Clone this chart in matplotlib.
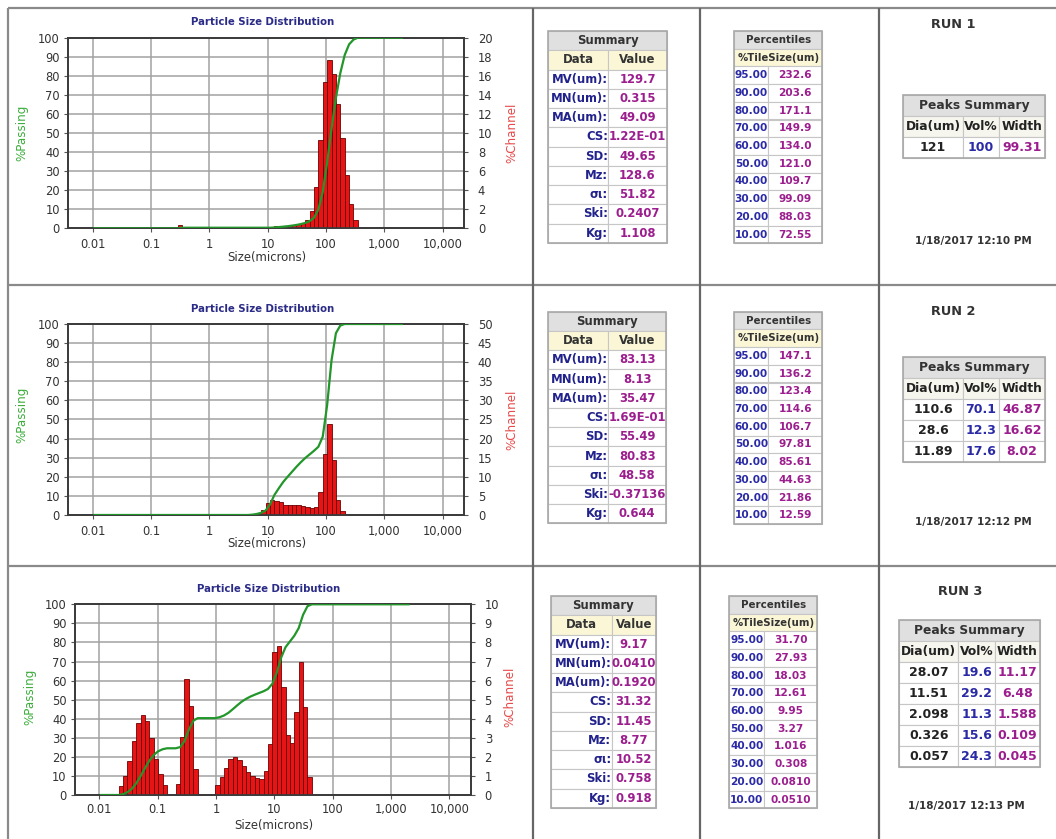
import matplotlib
matplotlib.use("Agg")
import matplotlib.pyplot as plt
from matplotlib.patches import Rectangle
from matplotlib.ticker import FixedLocator, NullLocator

# ---------------- data ----------------
CHANNEL_EDGES = [0.0108, 0.0128, 0.0152, 0.0181, 0.0215, 0.0256, 0.0304, 0.0362, 0.0430, 0.0511,
                 0.0608, 0.0723, 0.0860, 0.102, 0.122, 0.145, 0.172, 0.204, 0.243, 0.289,
                 0.344, 0.409, 0.486, 0.578, 0.688, 0.818, 0.972, 1.156, 1.375, 1.635,
                 1.945, 2.312, 2.75, 3.27, 3.889, 4.625, 5.5, 6.541, 7.778, 9.25,
                 11.0, 13.08, 15.56, 18.5, 22.0, 26.16, 31.11, 37.0, 44.0, 52.33,
                 62.23, 74.0, 88.0, 104.7, 124.5, 148.0, 176.0, 209.3, 248.9, 296.0,
                 352.0, 418.6, 497.8, 592.0, 704.0, 837.2, 995.6, 1184, 1408, 1674, 2000]

X_TICKS = [0.01, 0.1, 1, 10, 100, 1000, 10000]
X_TICK_LABELS = ["0.01", "0.1", "1", "10", "100", "1,000", "10,000"]
PASS_TICKS = list(range(0, 101, 10))

# Run 1
run1_bar_lo = [0.289, 11.0, 13.08, 15.56, 18.5, 22.0, 26.16, 31.11, 37.0, 44.0, 52.33,
               62.23, 74.0, 88.0, 104.7, 124.5, 148.0, 176.0, 209.3, 248.9, 296.0]
run1_bar_pct = [0.3, 0.15, 0.2, 0.2, 0.25, 0.3, 0.35, 0.45, 0.6, 0.9, 1.8,
                4.3, 9.3, 15.4, 17.7, 16.2, 13.0, 9.5, 5.6, 2.5, 0.9]
run1_pass_size = [0.0108, 0.289, 0.344, 11.0, 13.08, 15.56, 18.5, 22.0, 26.16, 31.11, 37.0,
                  44.0, 52.33, 62.23, 74.0, 88.0, 104.7, 124.5, 148.0, 176.0, 209.3,
                  248.9, 296.0, 352.0, 2000]
run1_pass_pct = [0, 0, 0.3, 0.3, 0.45, 0.65, 0.85, 1.1, 1.4, 1.75, 2.2,
                 2.8, 3.7, 5.5, 9.8, 19.1, 34.5, 52.2, 68.4, 81.4, 90.9,
                 96.5, 99.0, 100, 100]
run1_channel_ticks = list(range(0, 21, 2))

# Run 2
run2_bar_lo = [4.625, 5.5, 6.541, 7.778, 9.25, 11.0, 13.08, 15.56, 18.5, 22.0, 26.16,
               31.11, 37.0, 44.0, 52.33, 62.23, 74.0, 88.0, 104.7, 124.5, 148.0, 176.0]
run2_bar_pct = [0.2, 0.35, 0.6, 1.2, 3.2, 3.95, 3.75, 3.3, 2.65, 2.6, 2.7,
                2.55, 2.35, 2.0, 1.85, 2.2, 6.05, 16.05, 23.85, 14.35, 4.05, 0.95]
run2_pass_size = [0.0108, 4.625, 5.5, 6.541, 7.778, 9.25, 11.0, 13.08, 15.56, 18.5, 22.0,
                  26.16, 31.11, 37.0, 44.0, 52.33, 62.23, 74.0, 88.0, 104.7, 124.5,
                  148.0, 176.0, 209.3, 2000]
run2_pass_pct = [0, 0, 0.2, 0.55, 1.15, 2.35, 5.5, 10.5, 14.0, 17.3, 20.0,
                 22.6, 25.2, 27.6, 29.8, 31.7, 33.6, 35.7, 41.0, 57.5, 81.0,
                 95.2, 99.2, 100, 100]
run2_channel_ticks = list(range(0, 51, 5))

# Run 3
run3_bar_lo = [0.0215, 0.0256, 0.0304, 0.0362, 0.0430, 0.0511, 0.0608, 0.0723, 0.0860, 0.102, 0.122,
               0.204, 0.243, 0.289, 0.344, 0.409,
               0.972, 1.156, 1.375, 1.635, 1.945, 2.312, 2.75, 3.27, 3.889, 4.625, 5.5,
               6.541, 7.778, 9.25, 11.0, 13.08, 15.56, 18.5, 22.0, 26.16, 31.11, 37.0]
run3_bar_pct = [0.45, 1.0, 1.8, 2.85, 3.8, 4.2, 3.9, 3.0, 1.9, 1.1, 0.55,
                0.6, 3.05, 6.1, 4.65, 1.35,
                0.5, 0.92, 1.4, 1.87, 2.0, 1.85, 1.5, 1.18, 1.0, 0.87, 0.85,
                1.25, 2.66, 7.5, 7.8, 5.65, 3.15, 2.72, 4.35, 6.95, 4.62, 0.97]
run3_pass_size = [0.0108, 0.0215, 0.0256, 0.0304, 0.0362, 0.0430, 0.0511, 0.0608, 0.0723, 0.0860,
                  0.102, 0.122, 0.145, 0.204, 0.243, 0.289, 0.344, 0.409, 0.486, 0.972,
                  1.156, 1.375, 1.635, 1.945, 2.312, 2.75, 3.27, 3.889, 4.625, 5.5,
                  6.541, 7.778, 9.25, 11.0, 13.08, 15.56, 18.5, 22.0, 26.16, 31.11,
                  37.0, 44.0, 2000]
run3_pass_pct = [0, 0, 0.45, 1.45, 3.25, 6.1, 9.9, 14.1, 18.0, 21.0,
                 22.9, 24.0, 24.5, 24.5, 25.1, 28.2, 34.3, 38.9, 40.3, 40.3,
                 40.8, 41.7, 43.1, 45.0, 47.0, 48.9, 50.4, 51.6, 52.6, 53.5,
                 54.4, 55.6, 58.3, 64.0, 72.0, 77.5, 80.5, 83.5, 87.5, 94.5,
                 99.0, 100, 100]
run3_channel_ticks = list(range(0, 11, 1))

SUMMARY_LABELS = ["MV(um):", "MN(um):", "MA(um):", "CS:", "SD:", "Mz:", "σι:", "Ski:", "Kg:"]
run1_summary = ["129.7", "0.315", "49.09", "1.22E-01", "49.65", "128.6", "51.82", "0.2407", "1.108"]
run2_summary = ["83.13", "8.13", "35.47", "1.69E-01", "55.49", "80.83", "48.58", "-0.37136", "0.644"]
run3_summary = ["9.17", "0.0410", "0.1920", "31.32", "11.45", "8.77", "10.52", "0.758", "0.918"]

PERCENTILE_TILES = ["95.00", "90.00", "80.00", "70.00", "60.00", "50.00", "40.00", "30.00", "20.00", "10.00"]
run1_percentiles = ["232.6", "203.6", "171.1", "149.9", "134.0", "121.0", "109.7", "99.09", "88.03", "72.55"]
run2_percentiles = ["147.1", "136.2", "123.4", "114.6", "106.7", "97.81", "85.61", "44.63", "21.86", "12.59"]
run3_percentiles = ["31.70", "27.93", "18.03", "12.61", "9.95", "3.27", "1.016", "0.308", "0.0810", "0.0510"]

run1_peaks = [["121", "100", "99.31"]]
run2_peaks = [["110.6", "70.1", "46.87"], ["28.6", "12.3", "16.62"], ["11.89", "17.6", "8.02"]]
run3_peaks = [["28.07", "19.6", "11.17"], ["11.51", "29.2", "6.48"], ["2.098", "11.3", "1.588"],
              ["0.326", "15.6", "0.109"], ["0.057", "24.3", "0.045"]]

RUN_NAMES = ["RUN 1", "RUN 2", "RUN 3"]
RUN_DATES = ["1/18/2017 12:10 PM", "1/18/2017 12:12 PM", "1/18/2017 12:13 PM"]

# ---------------- style ----------------
W, H = 1056, 839
RED = "#e61414"
RED_EDGE = "#6b0000"
GREEN = "#22962a"
NAVY = "#22228c"
PURPLE = "#9c1e8e"
BLUE = "#2a2aa6"
TXT = "#333333"
GRID = "#a2a2a2"
FRAME = "#8a8a8a"

plt.rcParams["font.family"] = ["DejaVu Sans"]
fig = plt.figure(figsize=(W / 100, H / 100), dpi=100)

ov = fig.add_axes([0, 0, 1, 1])
ov.set_xlim(0, W)
ov.set_ylim(H, 0)
ov.axis("off")


def px_axes(x0, y0, x1, y1):
    return fig.add_axes([x0 / W, 1 - y1 / H, (x1 - x0) / W, (y1 - y0) / H])


# cell frame lines
for yy in [8, 284.5, 566]:
    ov.plot([8, W], [yy, yy], color=FRAME, lw=1.6, solid_capstyle="butt")
for xx in [8, 533, 700, 879]:
    ov.plot([xx, xx], [8, H], color=FRAME if xx == 8 else "#666666", lw=1.6, solid_capstyle="butt")


def draw_chart(box, bar_lo, bar_pct, pass_size, pass_pct, ch_ticks, title_xy, xlabel_xy, pass_xy, chan_xy,
               xpad=4):
    x0, y0, x1, y1 = box
    ax = px_axes(x0, y0, x1, y1)
    ax.set_xscale("log")
    ax.set_xlim(10 ** -2.415, 10 ** 4.365)
    ax.set_ylim(0, ch_ticks[-1])
    hi = [CHANNEL_EDGES[CHANNEL_EDGES.index(lo) + 1] for lo in bar_lo]
    widths = [h - l for h, l in zip(hi, bar_lo)]
    ax.plot([CHANNEL_EDGES[0], CHANNEL_EDGES[-1]], [0, 0], color=RED, lw=1.4, zorder=2,
            solid_capstyle="butt")
    ax.bar(bar_lo, bar_pct, width=widths, align="edge", color=RED, edgecolor=RED_EDGE,
           linewidth=0.6, zorder=3)
    ax.xaxis.set_major_locator(FixedLocator(X_TICKS))
    ax.xaxis.set_minor_locator(NullLocator())
    ax.set_xticklabels(X_TICK_LABELS)
    ax.set_yticks(ch_ticks)
    ax.grid(True, color=GRID, lw=1.1)
    ax.set_axisbelow(True)

    axg = ax.twinx()
    axg.set_ylim(0, 100)
    axg.plot(pass_size, pass_pct, color=GREEN, lw=1.6, zorder=5)
    axg.set_yticks(PASS_TICKS)
    axg.xaxis.set_minor_locator(NullLocator())

    ax.yaxis.tick_right()
    axg.yaxis.tick_left()
    ax.tick_params(axis="y", which="both", left=False, right=True, labelleft=False, labelright=True,
                   length=3, pad=7, labelsize=8.3, labelcolor=TXT, color="#555555")
    axg.tick_params(axis="y", which="both", left=True, right=False, labelleft=True, labelright=False,
                    length=3, pad=3, labelsize=8.3, labelcolor=TXT, color="#555555")
    ax.tick_params(axis="x", which="both", length=3, pad=xpad, labelsize=8.3, labelcolor=TXT,
                   color="#555555")
    for a in (ax, axg):
        for s in a.spines.values():
            s.set_color("#3c3c3c")
            s.set_linewidth(1.3)

    ov.text(title_xy[0], title_xy[1], "Particle Size Distribution", ha="center", va="center",
            fontsize=7.3, fontweight="bold", color="#2b2b88")
    ov.text(xlabel_xy[0], xlabel_xy[1], "Size(microns)", ha="center", va="center",
            fontsize=8.4, color=TXT)
    ov.text(pass_xy[0], pass_xy[1], "%Passing", ha="center", va="center", rotation=90,
            fontsize=8.6, color="#3cae3c")
    ov.text(chan_xy[0], chan_xy[1], "%Channel", ha="center", va="center", rotation=90,
            fontsize=8.6, color="#e84a4a")


def cell(x, y, w, h, fc, ec="#c6c6c6", lw=0.8):
    ov.add_patch(Rectangle((x, y), w, h, facecolor=fc, edgecolor=ec, lw=lw))


def summary_table(x0, xm, x1, y0, rh, values):
    cell(x0, y0, x1 - x0, rh, "#e0e0e0")
    ov.text((x0 + x1) / 2, y0 + rh / 2, "Summary", ha="center", va="center",
            fontsize=8.4, fontweight="bold", color=TXT)
    cell(x0, y0 + rh, xm - x0, rh, "#fbf7d6")
    cell(xm, y0 + rh, x1 - xm, rh, "#fbf7d6")
    ov.text((x0 + xm) / 2, y0 + 1.5 * rh, "Data", ha="center", va="center",
            fontsize=8.4, fontweight="bold", color=TXT)
    ov.text((xm + x1) / 2, y0 + 1.5 * rh, "Value", ha="center", va="center",
            fontsize=8.4, fontweight="bold", color=TXT)
    for i, (lab, val) in enumerate(zip(SUMMARY_LABELS, values)):
        y = y0 + (i + 2) * rh
        cell(x0, y, xm - x0, rh, "white")
        cell(xm, y, x1 - xm, rh, "white")
        ov.text(xm - 0.5, y + rh / 2, lab, ha="right", va="center",
                fontsize=8.4, fontweight="bold", color=NAVY)
        ov.text((xm + x1) / 2, y + rh / 2, val, ha="center", va="center",
                fontsize=8.4, fontweight="bold", color=PURPLE)
    ov.add_patch(Rectangle((x0, y0), x1 - x0, rh * 11, fill=False, edgecolor="#a8a8a8", lw=1.2))


def percentile_table(x0, xm, x1, y0, rh, values):
    cell(x0, y0, x1 - x0, rh, "#e0e0e0")
    ov.text((x0 + x1) / 2, y0 + rh / 2, "Percentiles", ha="center", va="center",
            fontsize=7.4, fontweight="bold", color=TXT)
    cell(x0, y0 + rh, x1 - x0, rh, "#fbf7d6")
    ov.text((x0 + x1) / 2, y0 + 1.5 * rh, "%TileSize(um)", ha="center", va="center",
            fontsize=7.3, fontweight="bold", color=TXT)
    for i, (t, v) in enumerate(zip(PERCENTILE_TILES, values)):
        y = y0 + (i + 2) * rh
        cell(x0, y, xm - x0, rh, "white")
        cell(xm, y, x1 - xm, rh, "white")
        ov.text((x0 + xm) / 2, y + rh / 2, t, ha="center", va="center",
                fontsize=7.6, fontweight="bold", color=BLUE)
        ov.text((xm + x1) / 2, y + rh / 2, v, ha="center", va="center",
                fontsize=7.6, fontweight="bold", color=PURPLE)
    ov.add_patch(Rectangle((x0, y0), x1 - x0, rh * 12, fill=False, edgecolor="#a8a8a8", lw=1.2))


def peaks_table(x0, xa, xb, x1, y0, rh, rows):
    cell(x0, y0, x1 - x0, rh, "#e0e0e0")
    ov.text((x0 + x1) / 2, y0 + rh / 2, "Peaks Summary", ha="center", va="center",
            fontsize=8.8, fontweight="bold", color=TXT)
    cols = [(x0, xa), (xa, xb), (xb, x1)]
    heads = ["Dia(um)", "Vol%", "Width"]
    for (a, b), hd in zip(cols, heads):
        cell(a, y0 + rh, b - a, rh, "#f6f6ee")
        ov.text((a + b) / 2, y0 + 1.5 * rh, hd, ha="center", va="center",
                fontsize=8.8, fontweight="bold", color="#222222")
    colors = ["#222222", BLUE, PURPLE]
    for i, r in enumerate(rows):
        y = y0 + (i + 2) * rh
        for (a, b), v, c in zip(cols, r, colors):
            cell(a, y, b - a, rh, "white")
            ov.text((a + b) / 2, y + rh / 2, v, ha="center", va="center",
                    fontsize=9.0, fontweight="bold", color=c)
    ov.add_patch(Rectangle((x0, y0), x1 - x0, rh * (len(rows) + 2), fill=False,
                           edgecolor="#a8a8a8", lw=1.2))


# ---------------- row 1 ----------------
draw_chart((68.3, 37.7, 464, 228.3), run1_bar_lo, run1_bar_pct, run1_pass_size, run1_pass_pct,
           run1_channel_ticks, (263, 21.7), (267, 258), (21.7, 133), (511.7, 133))
summary_table(548.3, 608.3, 666.7, 31, 19.25, run1_summary)
percentile_table(734.3, 768.3, 822.3, 31, 17.7, run1_percentiles)
peaks_table(903.3, 962.7, 999.3, 1045, 95, 21, run1_peaks)
ov.text(953.3, 25, RUN_NAMES[0], ha="center", va="center", fontsize=9.3, fontweight="bold", color=TXT)
ov.text(973.3, 240.7, RUN_DATES[0], ha="center", va="center", fontsize=7.5, fontweight="bold", color=TXT)

# ---------------- row 2 ----------------
draw_chart((68.3, 324, 464, 515), run2_bar_lo, run2_bar_pct, run2_pass_size, run2_pass_pct,
           run2_channel_ticks, (263, 309), (267, 543.3), (21.7, 415), (511.7, 420))
summary_table(548.3, 608.3, 666, 311.7, 19.24, run2_summary)
percentile_table(734.3, 768.3, 822.3, 311.7, 17.7, run2_percentiles)
peaks_table(903.3, 962.7, 999.3, 1045, 356.7, 21, run2_peaks)
ov.text(953.3, 311.7, RUN_NAMES[1], ha="center", va="center", fontsize=9.3, fontweight="bold", color=TXT)
ov.text(973, 521.7, RUN_DATES[1], ha="center", va="center", fontsize=7.5, fontweight="bold", color=TXT)

# ---------------- row 3 ----------------
draw_chart((75, 604.3, 470.7, 795), run3_bar_lo, run3_bar_pct, run3_pass_size, run3_pass_pct,
           run3_channel_ticks, (269, 589), (274, 825.5), (30, 697), (510, 697), xpad=3)
summary_table(550.7, 611.7, 656, 596, 19.25, run3_summary)
percentile_table(729.3, 764.3, 817.3, 596, 17.7, run3_percentiles)
peaks_table(899.3, 958.3, 995, 1040, 620, 21, run3_peaks)
ov.text(960, 591.7, RUN_NAMES[2], ha="center", va="center", fontsize=9.3, fontweight="bold", color=TXT)
ov.text(966.7, 805.7, RUN_DATES[2], ha="center", va="center", fontsize=7.5, fontweight="bold", color=TXT)

fig.savefig("out.png", dpi=100)
